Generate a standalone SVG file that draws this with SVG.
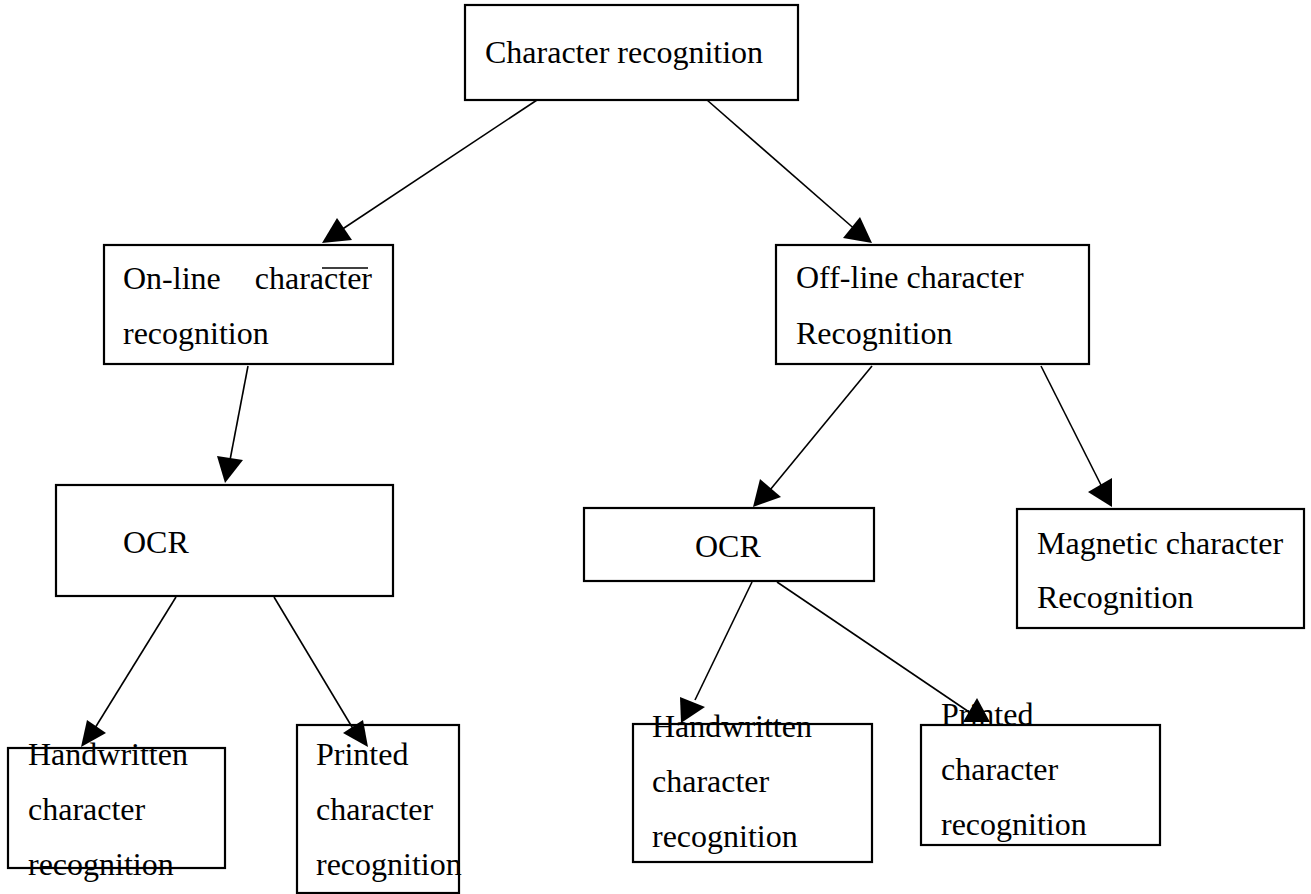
<svg xmlns="http://www.w3.org/2000/svg" width="1311" height="894" viewBox="0 0 1311 894">
<style>
.box{fill:none;stroke:#000;stroke-width:2.2}
.t{font-family:"Liberation Serif","Times New Roman",serif;font-size:32px;fill:#000}
.ln{stroke:#000;stroke-width:1.6;fill:none}
.ah{fill:#000;stroke:none}
</style>
<rect width="1311" height="894" fill="#fff"/>
<g id="connectors">
<line class="ln" x1="537" y1="100" x2="332" y2="236"/>
<polygon class="ah" points="322,243 352,240 337,218"/>
<line class="ln" x1="707" y1="100" x2="858" y2="232"/>
<polygon class="ah" points="872,243 843,238 860,217"/>
<line class="ln" x1="248" y1="366" x2="230" y2="460"/>
<polygon class="ah" points="225,483 217,456 243,460"/>
<line class="ln" x1="872" y1="366" x2="770" y2="490"/>
<polygon class="ah" points="753,507 760,479 781,497"/>
<line class="ln" x1="1041" y1="366" x2="1102" y2="487"/>
<polygon class="ah" points="1112,507 1088,492 1112,478"/>
<line class="ln" x1="176" y1="597" x2="95" y2="728"/>
<polygon class="ah" points="81,747 106,733 87,720"/>
<line class="ln" x1="274" y1="597" x2="355" y2="732"/>
<polygon class="ah" points="368,747 343,733 363,720"/>
<line class="ln" x1="752" y1="582" x2="695" y2="700"/>
<polygon class="ah" points="681,723 680,697 705,707"/>
<line class="ln" x1="777" y1="582" x2="972" y2="714"/>
<polygon class="ah" points="977,698 963,722 990,722"/>
</g>
<g id="n-root">
<rect class="box" x="465" y="5" width="333" height="95"/>
<text class="t" x="485" y="63">Character recognition</text>
</g>
<g id="n-online">
<rect class="box" x="104" y="245" width="289" height="119"/>
<text class="t" x="123" y="289">On-line</text>
<text class="t" x="372" y="289" text-anchor="end">character</text>
<line class="ln" x1="322" y1="268" x2="368" y2="268"/>
<text class="t" x="123" y="344">recognition</text>
</g>
<g id="n-offline">
<rect class="box" x="776" y="245" width="313" height="119"/>
<text class="t" x="796" y="288">Off-line character</text>
<text class="t" x="796" y="344">Recognition</text>
</g>
<g id="n-ocr-left">
<rect class="box" x="56" y="485" width="337" height="111"/>
<text class="t" x="123" y="553">OCR</text>
</g>
<g id="n-ocr-right">
<rect class="box" x="584" y="508" width="290" height="73"/>
<text class="t" x="695" y="557">OCR</text>
</g>
<g id="n-magnetic">
<rect class="box" x="1017" y="509" width="287" height="119"/>
<text class="t" x="1037" y="554">Magnetic character</text>
<text class="t" x="1037" y="608">Recognition</text>
</g>
<g id="n-hand-left">
<rect class="box" x="8" y="748" width="217" height="120"/>
<text class="t" x="28" y="765">Handwritten</text>
<text class="t" x="28" y="820">character</text>
<text class="t" x="28" y="875">recognition</text>
</g>
<g id="n-print-left">
<rect class="box" x="297" y="725" width="162" height="168"/>
<text class="t" x="316" y="765">Printed</text>
<text class="t" x="316" y="820">character</text>
<text class="t" x="316" y="875">recognition</text>
</g>
<g id="n-hand-right">
<rect class="box" x="633" y="724" width="239" height="138"/>
<text class="t" x="652" y="737">Handwritten</text>
<text class="t" x="652" y="792">character</text>
<text class="t" x="652" y="847">recognition</text>
</g>
<g id="n-print-right">
<rect class="box" x="921" y="725" width="239" height="120"/>
<text class="t" x="941" y="725">Printed</text>
<text class="t" x="941" y="780">character</text>
<text class="t" x="941" y="835">recognition</text>
</g>
</svg>
